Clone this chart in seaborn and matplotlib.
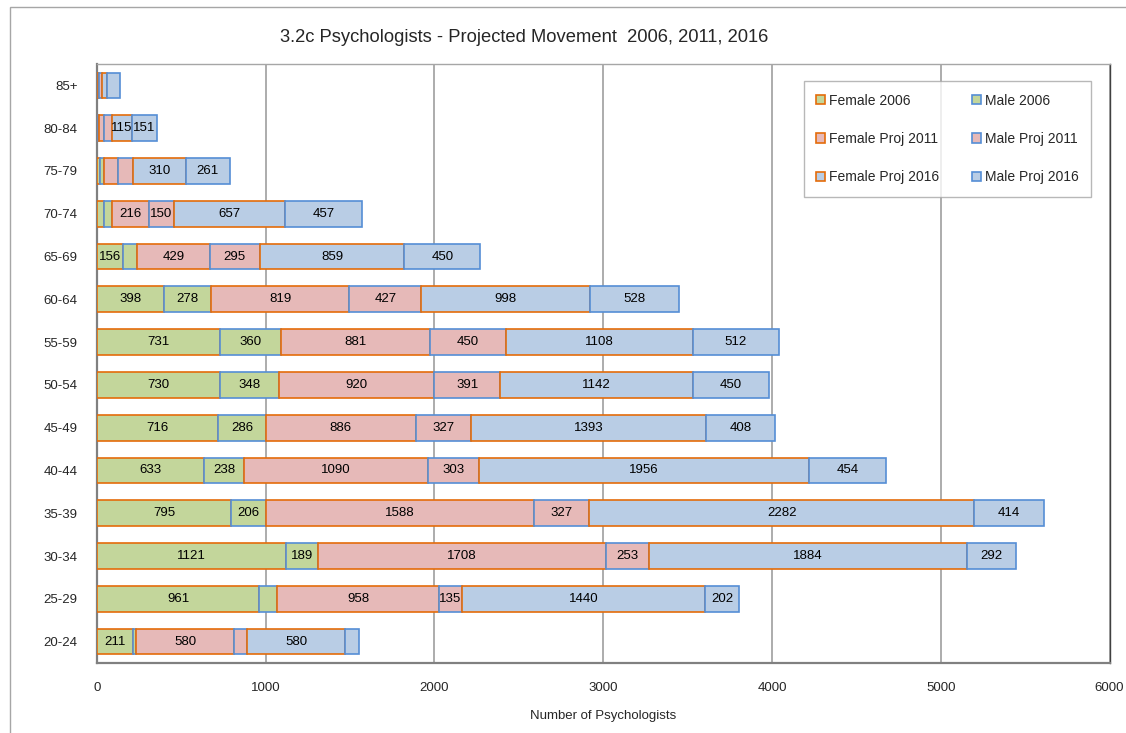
import numpy as np
import pandas as pd
import seaborn as sns
import matplotlib
matplotlib.use("Agg")
import matplotlib.pyplot as plt
from matplotlib.patches import Patch, Rectangle

ages = ["85+", "80-84", "75-79", "70-74", "65-69", "60-64", "55-59",
        "50-54", "45-49", "40-44", "35-39", "30-34", "25-29", "20-24"]

female_2006 = [3, 5, 18, 41, 156, 398, 731, 730, 716, 633, 795, 1121, 961, 211]
male_2006 = [3, 4, 25, 50, 83, 278, 360, 348, 286, 238, 206, 189, 108, 22]
female_2011 = [8, 32, 83, 216, 429, 819, 881, 920, 886, 1090, 1588, 1708, 958, 580]
male_2011 = [15, 50, 89, 150, 295, 427, 450, 391, 327, 303, 327, 253, 135, 77]
female_2016 = [32, 115, 310, 657, 859, 998, 1108, 1142, 1393, 1956, 2282, 1884, 1440, 580]
male_2016 = [78, 151, 261, 457, 450, 528, 512, 450, 408, 454, 414, 292, 202, 83]

series_names = ["Female 2006", "Male 2006", "Female Proj 2011",
                "Male Proj 2011", "Female Proj 2016", "Male Proj 2016"]
series_values = [female_2006, male_2006, female_2011, male_2011, female_2016, male_2016]

green, pink, blue = "#C3D69B", "#E6B9B8", "#B9CDE5"
orange_edge, blue_edge = "#E46C0A", "#558ED5"
fills = [green, green, pink, pink, blue, blue]
edges = [orange_edge, blue_edge] * 3

sns.set_style("white")
plt.rcParams["font.family"] = ["Liberation Sans", "DejaVu Sans"]

fig = plt.figure(figsize=(11.26, 7.33), dpi=100)
ax = fig.add_axes([97 / 1126, 1 - 663 / 733, 1012.5 / 1126, 599 / 733])

# segments too narrow for their number stay unlabelled
label_min = 110
left = np.zeros(len(ages))
for name, vals, fc, ec in zip(series_names, series_values, fills, edges):
    df = pd.DataFrame({"age": ages, "count": vals})
    sns.barplot(data=df, x="count", y="age", order=ages, orient="h",
                color=fc, edgecolor=ec, linewidth=1.2, width=0.6,
                left=left, saturation=1, ax=ax, zorder=3)
    cont = ax.containers[-1]
    labels = [str(v) if v >= label_min else "" for v in vals]
    ax.bar_label(cont, labels=labels, label_type="center", fontsize=9.5,
                 color="black")
    left = left + np.array(vals)

ax.set_xlim(0, 6000)
ax.set_ylim(len(ages) - 0.5, -0.5)
ax.set_xticks(range(0, 6001, 1000))
ax.xaxis.grid(True, color="#A6A6A6", linewidth=1.3, zorder=0)
ax.yaxis.grid(False)
ax.set_axisbelow(True)
ax.tick_params(axis="x", labelsize=9.5, pad=14, length=0)
ax.tick_params(axis="y", labelsize=9.5, pad=14, length=0)
ax.set_ylabel("")
ax.set_xlabel("Number of Psychologists", fontsize=9.5, labelpad=11)
for side in ["top", "right"]:
    ax.spines[side].set_color("#A6A6A6")
    ax.spines[side].set_linewidth(1.0)
ax.spines["left"].set_color("#808080")
ax.spines["bottom"].set_color("#808080")
ax.spines["left"].set_linewidth(1.6)
ax.spines["bottom"].set_linewidth(1.6)
ax.spines["right"].set_color("#404040")

fig.text(524 / 1126, 1 - 37 / 733, "3.2c Psychologists - Projected Movement  2006, 2011, 2016",
         ha="center", va="center", fontsize=13.2)

handles = [Patch(facecolor=fc, edgecolor=ec, linewidth=1.2)
           for fc, ec in zip(fills, edges)]
order_idx = [0, 2, 4, 1, 3, 5]
leg = ax.legend([handles[i] for i in order_idx], [series_names[i] for i in order_idx],
                ncol=2, loc="upper left", bbox_to_anchor=(0.698, 0.9716, 0.284, 0.0),
                mode="expand", fontsize=10, frameon=True, fancybox=False,
                edgecolor="#A6A6A6", handlelength=0.65, handleheight=0.65,
                handletextpad=0.3, labelspacing=1.75, borderpad=0.9,
                borderaxespad=0, columnspacing=1.0)
leg.get_frame().set_linewidth(1.0)

# outer chart border, cut off at the right and bottom like the original
fig.patches.append(Rectangle((10 / 1126, -0.1), 1.2, 1 - 7 / 733 + 0.1,
                             transform=fig.transFigure, fill=False,
                             edgecolor="#A6A6A6", linewidth=1.0))

fig.savefig("out.png", dpi=100)
